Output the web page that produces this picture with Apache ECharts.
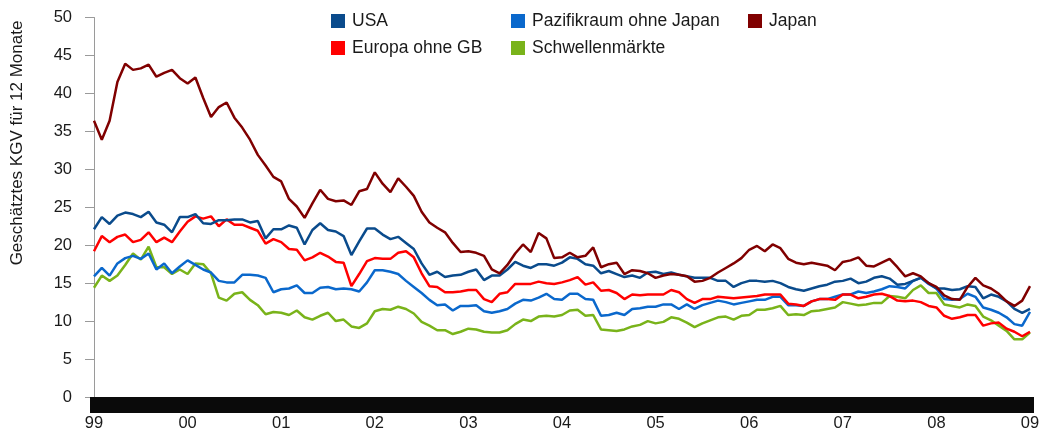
<!DOCTYPE html>
<html>
<head>
<meta charset="utf-8">
<script src="https://cdn.jsdelivr.net/npm/echarts@6/dist/echarts.min.js"></script>
<style>
html,body{margin:0;padding:0;background:#fff;}
#chart{width:1051px;height:433px;}
</style>
</head>
<body>
<div id="chart"></div>
<script>
// Tick labels (one per January, 1999 .. 2009)
const yearLabels = ['99','00','01','02','03','04','05','06','07','08','09'];

// Monthly categories Jan 1999 .. Jan 2009
const categories = [];
for (let y = 1999; y <= 2009; y++) {
  for (let m = 1; m <= 12; m++) {
    if (y === 2009 && m > 1) break;
    categories.push(y + '-' + (m < 10 ? '0' + m : m));
  }
}

const usa = [
22.1,23.7,22.8,23.9,24.3,24.1,23.7,24.4,23.0,22.7,21.7,23.7,
23.7,24.1,22.9,22.8,23.3,23.3,23.4,23.4,23.0,23.2,20.9,22.1,
22.1,22.6,22.3,20.1,22.0,22.9,22.0,21.8,21.2,18.7,20.5,22.2,
22.2,21.4,20.8,21.1,20.3,19.5,17.6,16.1,16.5,15.8,16.0,16.1,
16.5,16.8,15.4,16.0,16.0,16.8,17.8,17.3,17.0,17.5,17.5,17.3,
17.7,18.4,18.2,17.5,17.3,16.3,16.6,16.2,15.8,16.0,15.7,16.4,
16.5,16.2,16.4,16.1,15.9,15.7,15.7,15.7,15.3,15.3,14.5,15.0,
15.3,15.3,15.2,15.3,15.0,14.5,14.2,14.0,14.3,14.6,14.8,15.2,
15.3,15.6,15.0,15.2,15.7,15.9,15.6,14.8,14.9,15.3,15.7,15.0,
14.3,14.3,14.1,14.2,14.6,14.5,13.0,13.5,13.2,12.6,11.6,11.1,
11.6];

const europa = [
19.2,21.2,20.4,21.1,21.4,20.4,20.7,21.7,20.4,21.0,20.4,21.8,
23.1,23.8,23.5,23.8,22.5,23.4,22.7,22.7,22.3,21.9,20.2,20.8,
20.4,19.5,19.4,18.0,18.4,19.0,18.5,17.8,17.7,14.6,16.2,17.9,
18.3,18.2,18.2,19.0,19.2,18.4,16.3,14.6,14.5,13.8,13.8,13.9,
14.1,14.1,12.9,12.5,13.6,13.8,14.9,14.9,14.9,15.2,15.0,14.9,
15.1,15.4,15.8,14.8,15.1,14.0,14.1,13.7,12.9,13.5,13.4,13.5,
13.5,13.5,14.1,13.8,12.9,12.4,12.9,12.9,13.2,13.1,13.0,13.1,
13.2,13.3,13.5,13.5,13.5,12.3,12.2,12.0,12.6,12.9,12.9,12.8,
13.5,13.5,13.0,13.2,13.5,13.6,13.3,12.7,12.6,12.7,12.5,12.0,
11.8,10.7,10.3,10.5,10.8,10.8,9.4,9.7,9.8,9.0,8.6,8.0,
8.6];

const pazifik = [
15.9,17.0,16.0,17.6,18.3,18.6,18.2,18.9,16.8,17.6,16.3,17.2,
18.0,17.4,16.8,16.4,15.3,15.1,15.1,16.1,16.1,16.0,15.7,13.8,
14.2,14.3,14.7,13.7,13.7,14.4,14.5,14.2,14.3,14.2,13.9,15.1,
16.7,16.7,16.5,16.2,15.3,14.5,13.7,12.8,12.1,12.2,11.4,12.0,
12.0,12.1,11.3,11.1,11.3,11.6,12.3,12.8,12.7,13.1,13.6,12.9,
12.8,13.6,13.6,12.9,12.8,10.7,10.8,11.1,10.8,11.6,11.7,11.9,
11.9,12.2,12.2,11.6,12.2,11.6,12.1,12.4,12.7,12.5,12.2,12.4,
12.6,12.8,12.8,13.2,13.2,12.1,12.1,12.0,12.6,12.9,12.9,13.2,
13.5,13.5,13.9,13.7,13.9,14.2,14.6,14.5,14.3,15.3,15.7,14.9,
14.3,12.9,12.8,12.9,13.6,13.2,11.8,11.5,11.1,10.5,9.6,9.4,
11.2];

const schwellen = [
14.4,16.0,15.3,16.0,17.4,18.9,18.1,19.8,17.1,17.1,16.2,16.8,
16.2,17.6,17.5,16.3,13.1,12.7,13.6,13.8,12.8,12.1,10.9,11.2,
11.1,10.8,11.4,10.5,10.2,10.7,11.1,10.0,10.2,9.3,9.1,9.7,
11.3,11.6,11.5,11.9,11.6,11.0,9.9,9.4,8.8,8.8,8.3,8.6,
9.0,8.9,8.6,8.5,8.5,8.8,9.6,10.2,10.0,10.6,10.7,10.6,
10.8,11.4,11.5,10.7,10.8,8.9,8.8,8.7,8.9,9.3,9.5,10.0,
9.7,9.9,10.5,10.3,9.8,9.2,9.7,10.1,10.5,10.6,10.2,10.7,
10.8,11.5,11.5,11.7,12.0,10.8,10.9,10.8,11.3,11.4,11.6,11.8,
12.5,12.3,12.1,12.2,12.4,12.4,13.3,13.2,13.0,14.1,14.7,13.7,
13.7,12.2,12.0,11.8,12.2,12.0,10.6,10.1,9.4,8.7,7.6,7.6,
8.5];

const japan = [
36.4,33.9,36.4,41.5,43.9,43.1,43.3,43.8,42.2,42.7,43.1,42.0,
41.3,42.1,39.4,36.9,38.2,38.8,36.8,35.5,33.9,31.9,30.5,29.0,
28.4,26.1,25.1,23.6,25.5,27.3,26.1,25.8,25.9,25.3,27.1,27.4,
29.6,28.1,27.0,28.8,27.7,26.5,24.4,23.0,22.3,21.7,20.3,19.1,
19.2,19.0,18.6,16.8,16.3,17.4,18.9,20.1,19.1,21.6,20.9,18.3,
18.4,19.0,18.4,18.6,19.7,17.1,17.5,17.7,16.2,16.7,16.6,16.3,
15.7,16.0,16.2,16.1,15.9,15.2,15.3,15.7,16.4,17.0,17.6,18.3,
19.4,19.9,19.2,20.1,19.6,18.2,17.7,17.5,17.7,17.5,17.3,16.7,
17.8,18.0,18.4,17.3,17.2,17.7,18.2,17.1,15.9,16.3,15.9,15.0,
14.5,13.4,12.9,12.8,14.5,15.7,14.7,14.3,13.6,12.6,12.0,12.7,
14.6];

const FONT = '"Liberation Sans", Arial, sans-serif';
const TXT = '#1a1a1a';
const AX = '#9a9a9a';

const colors = {
  'USA': '#0a4b8c',
  'Pazifikraum ohne Japan': '#0a68cc',
  'Japan': '#800000',
  'Europa ohne GB': '#ff0000',
  'Schwellenmärkte': '#79b31a'
};

function line(name, data) {
  return {
    name: name, type: 'line', data: data,
    showSymbol: false, symbol: 'none', smooth: false,
    lineStyle: { width: 2.5, color: colors[name] },
    itemStyle: { color: colors[name] },
    emphasis: { disabled: true }
  };
}

function legend(left, names) {
  return {
    orient: 'vertical', left: left, top: 12, padding: 0,
    itemWidth: 14, itemHeight: 14, itemGap: 9, icon: 'rect',
    selectedMode: false,
    textStyle: { fontFamily: FONT, fontSize: 17.5, color: TXT, padding: [0,0,0,2] },
    data: names
  };
}

const chart = echarts.init(document.getElementById('chart'), null, { renderer: 'canvas' });
chart.setOption({
  animation: false,
  textStyle: { fontFamily: FONT },
  grid: { left: 94, right: 21, top: 17.5, bottom: 36, containLabel: false },
  legend: [
    legend(331, ['USA', 'Europa ohne GB']),
    legend(511, ['Pazifikraum ohne Japan', 'Schwellenmärkte']),
    legend(748, ['Japan'])
  ],
  xAxis: {
    type: 'category', data: categories, boundaryGap: false,
    axisLine: { show: true, lineStyle: { color: AX, width: 1 } },
    axisTick: { show: true, interval: 0, length: 16, lineStyle: { color: '#0a0a0a', width: 8 } },
    axisLabel: {
      show: true, margin: 18, fontFamily: FONT, fontSize: 16.5, color: TXT,
      interval: function (idx) { return idx % 12 === 0; },
      formatter: function (val, idx) { return idx % 12 === 0 ? yearLabels[idx / 12] : ''; }
    },
    splitLine: { show: false }
  },
  yAxis: {
    type: 'value', min: 0, max: 50, interval: 5,
    axisLine: { show: true, lineStyle: { color: AX, width: 1 } },
    axisTick: { show: true, length: 9, lineStyle: { color: AX } },
    axisLabel: { margin: 22, fontFamily: FONT, fontSize: 16.5, color: TXT },
    splitLine: { show: false }
  },
  graphic: [{
    type: 'text', x: 17, y: 143, rotation: Math.PI / 2,
    style: {
      text: 'Geschätztes KGV für 12 Monate',
      font: '17px "Liberation Sans", Arial, sans-serif',
      fill: TXT, align: 'center', verticalAlign: 'middle'
    }
  }],
  series: [
    line('Schwellenmärkte', schwellen),
    line('Pazifikraum ohne Japan', pazifik),
    line('Europa ohne GB', europa),
    line('USA', usa),
    line('Japan', japan)
  ]
});
</script>
</body>
</html>
